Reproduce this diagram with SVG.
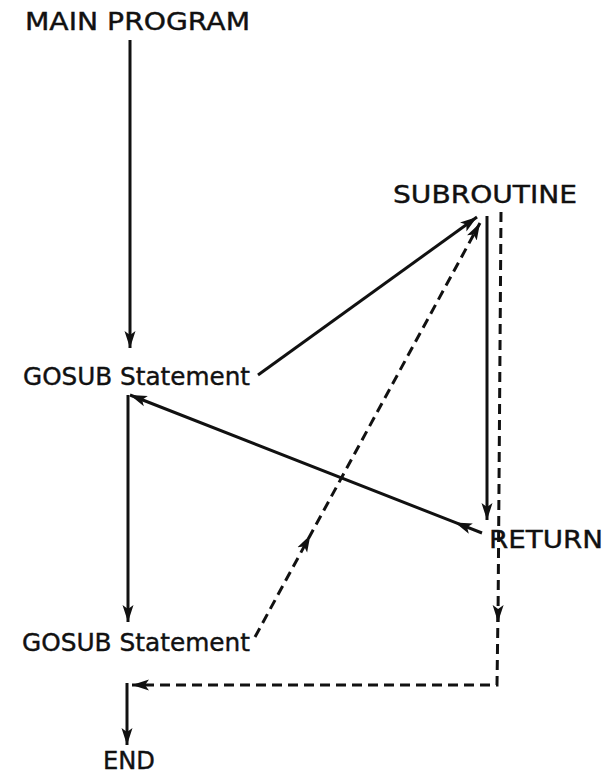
<svg xmlns="http://www.w3.org/2000/svg" width="606" height="775" viewBox="0 0 606 775">
<style>
  text { font-family: "DejaVu Sans", "Liberation Sans", Arial, sans-serif; font-size: 24px; fill: #111; stroke: #111; stroke-width: 0.4; }
  .s { fill: none; stroke: #111; stroke-width: 3; }
  .d { fill: none; stroke: #111; stroke-width: 3; stroke-dasharray: 10 6; }
</style>
<defs>
  <marker id="ah" markerUnits="userSpaceOnUse" markerWidth="18" markerHeight="12" refX="17" refY="6" orient="auto">
    <path d="M0,0.5 L17,6 L0,11.5 L4,6 z" fill="#111"/>
  </marker>
</defs>
<rect width="606" height="775" fill="#fff"/>
<g id="main-program"><text x="25" y="30" textLength="225" lengthAdjust="spacingAndGlyphs">MAIN PROGRAM</text></g>
<g id="subroutine"><text x="393" y="203" textLength="184" lengthAdjust="spacingAndGlyphs">SUBROUTINE</text></g>
<g id="gosub1"><text x="23" y="385" textLength="227" lengthAdjust="spacingAndGlyphs">GOSUB Statement</text></g>
<g id="return"><text x="489" y="548" textLength="114" lengthAdjust="spacingAndGlyphs">RETURN</text></g>
<g id="gosub2"><text x="22" y="651" textLength="228" lengthAdjust="spacingAndGlyphs">GOSUB Statement</text></g>
<g id="end"><text x="103" y="769" textLength="52" lengthAdjust="spacingAndGlyphs">END</text></g>
<g id="connectors">
  <path class="s" d="M130,40 L130,348" marker-end="url(#ah)"/>
  <path class="s" d="M258,375 L477,217" marker-end="url(#ah)"/>
  <path class="s" d="M487,216 L487,520" marker-end="url(#ah)"/>
  <path class="s" d="M482,533 L455,522.4 L130,395" marker-mid="url(#ah)" marker-end="url(#ah)"/>
  <path class="s" d="M128,395 L128,622" marker-end="url(#ah)"/>
  <path class="d" d="M255,637 L310.4,535 L480,223" marker-mid="url(#ah)" marker-end="url(#ah)"/>
  <path class="d" d="M501,212 L498,622" marker-end="url(#ah)"/>
  <path class="d" d="M498,612 L497,685 L132,685" marker-end="url(#ah)"/>
  <path class="s" d="M127,683 L127,745" marker-end="url(#ah)"/>
</g>
</svg>
